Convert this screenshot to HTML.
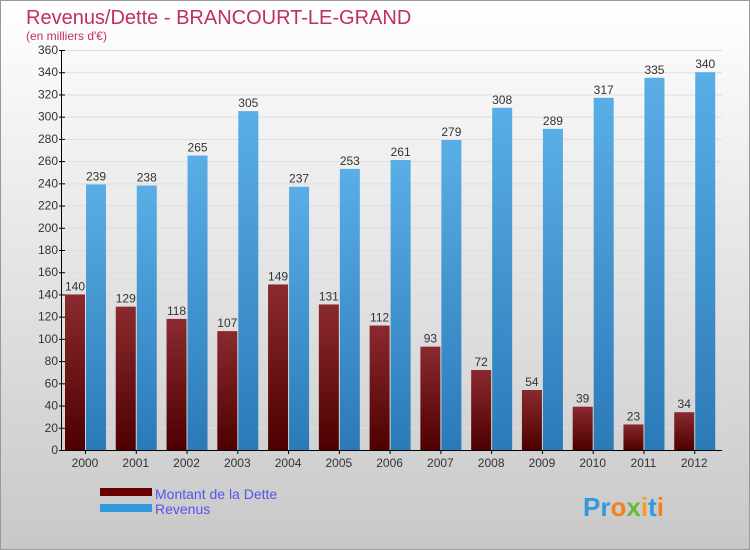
<!DOCTYPE html>
<html><head><meta charset="utf-8"><style>
body{margin:0;width:750px;height:550px;overflow:hidden}
svg{display:block;font-family:"Liberation Sans",sans-serif}
</style></head><body>
<svg width="750" height="550">
<defs>
<linearGradient id="bg" x1="0" y1="0" x2="0" y2="1"><stop offset="0" stop-color="#ffffff"/><stop offset="1" stop-color="#c8c8c8"/></linearGradient>
<linearGradient id="gd" x1="0" y1="0" x2="0" y2="1"><stop offset="0" stop-color="#8a2a2e"/><stop offset="1" stop-color="#4e0000"/></linearGradient>
<linearGradient id="gr" x1="0" y1="0" x2="0" y2="1"><stop offset="0" stop-color="#5aaee6"/><stop offset="1" stop-color="#2a7ab8"/></linearGradient>
</defs>
<rect x="0.5" y="0.5" width="749" height="549" fill="url(#bg)" stroke="#999"/>
<text x="26" y="24" font-size="20" fill="#c0305a">Revenus/Dette - BRANCOURT-LE-GRAND</text>
<text x="26" y="40" font-size="12" fill="#c0305a">(en milliers d'€)</text>
<g id="grid"></g><g id="bars"></g><g id="axes"></g>
<rect x="100" y="488" width="52" height="8" fill="#6a0000"/>
<rect x="100" y="504" width="52" height="8" fill="#3399dd"/>
<text x="155" y="499" font-size="14" fill="#5555ee">Montant de la Dette</text>
<text x="155" y="514" font-size="14" fill="#5555ee">Revenus</text>
<text x="583" y="516" font-size="26" font-weight="bold" fill="#3399dd">Pr<tspan fill="#f08020">o</tspan><tspan fill="#66bb33">x</tspan><tspan fill="#f0a020">i</tspan>t<tspan fill="#f08020">i</tspan></text>
</svg>
<script>
const years=["2000","2001","2002","2003","2004","2005","2006","2007","2008","2009","2010","2011","2012"];
const dette=[140,129,118,107,149,131,112,93,72,54,39,23,34];
const revenus=[239,238,265,305,237,253,261,279,308,289,317,335,340];
const yTicks=[0,20,40,60,80,100,120,140,160,180,200,220,240,260,280,300,320,340,360];
const NS="http://www.w3.org/2000/svg";
const x0=62,x1=722,yTop=50,yBot=450,ymax=360;
const gw=(x1-x0)/years.length;
const y=v=>yBot-(v/ymax)*(yBot-yTop);
function mk(t,a,p){const e=document.createElementNS(NS,t);for(const k in a)e.setAttribute(k,a[k]);p.appendChild(e);return e;}
const G=document.getElementById('grid'),B=document.getElementById('bars'),A=document.getElementById('axes');
yTicks.forEach(v=>{
 const l=mk('line',{x1:x0,x2:x1,y1:y(v)+.5,y2:y(v)+.5,stroke:'#dddddd'},G);
 
 
 const tk=mk('line',{x1:x0-3,x2:x0+3,y1:y(v)+.5,y2:y(v)+.5,stroke:'#000'},A);
 
 
 const t=mk('text',{x:x0-4,y:y(v)+4,'font-size':12,'text-anchor':'end',fill:'#333'},A);
 t.textContent=v;
 
 
});
years.forEach((yr,i)=>{
 const gx=x0+i*gw;
 const d=mk('rect',{x:gx+3,y:y(dette[i]),width:20,height:yBot-y(dette[i]),fill:'url(#gd)'},B);
 
 
 const r=mk('rect',{x:gx+24,y:y(revenus[i]),width:20,height:yBot-y(revenus[i]),fill:'url(#gr)'},B);
 
 
 const td=mk('text',{x:gx+13,y:y(dette[i])-4,'font-size':12,'text-anchor':'middle',fill:'#333'},B);
 td.textContent=dette[i];
 
 
 const tr=mk('text',{x:gx+34,y:y(revenus[i])-4,'font-size':12,'text-anchor':'middle',fill:'#333'},B);
 tr.textContent=revenus[i];
 
 
 const tl=mk('text',{x:gx+23,y:467,'font-size':12,'text-anchor':'middle',fill:'#333'},A);
 tl.textContent=yr;
 
 
 const tk=mk('line',{x1:gx+23.5,x2:gx+23.5,y1:yBot,y2:yBot+4,stroke:'#000'},A);
 
 
});
const ya=mk('line',{x1:x0-.5,x2:x0-.5,y1:yTop,y2:yBot+.5,stroke:'#000'},A);


const xa=mk('line',{x1:x0-.5,x2:x1,y1:yBot+.5,y2:yBot+.5,stroke:'#000'},A);


</script>
</body></html>
